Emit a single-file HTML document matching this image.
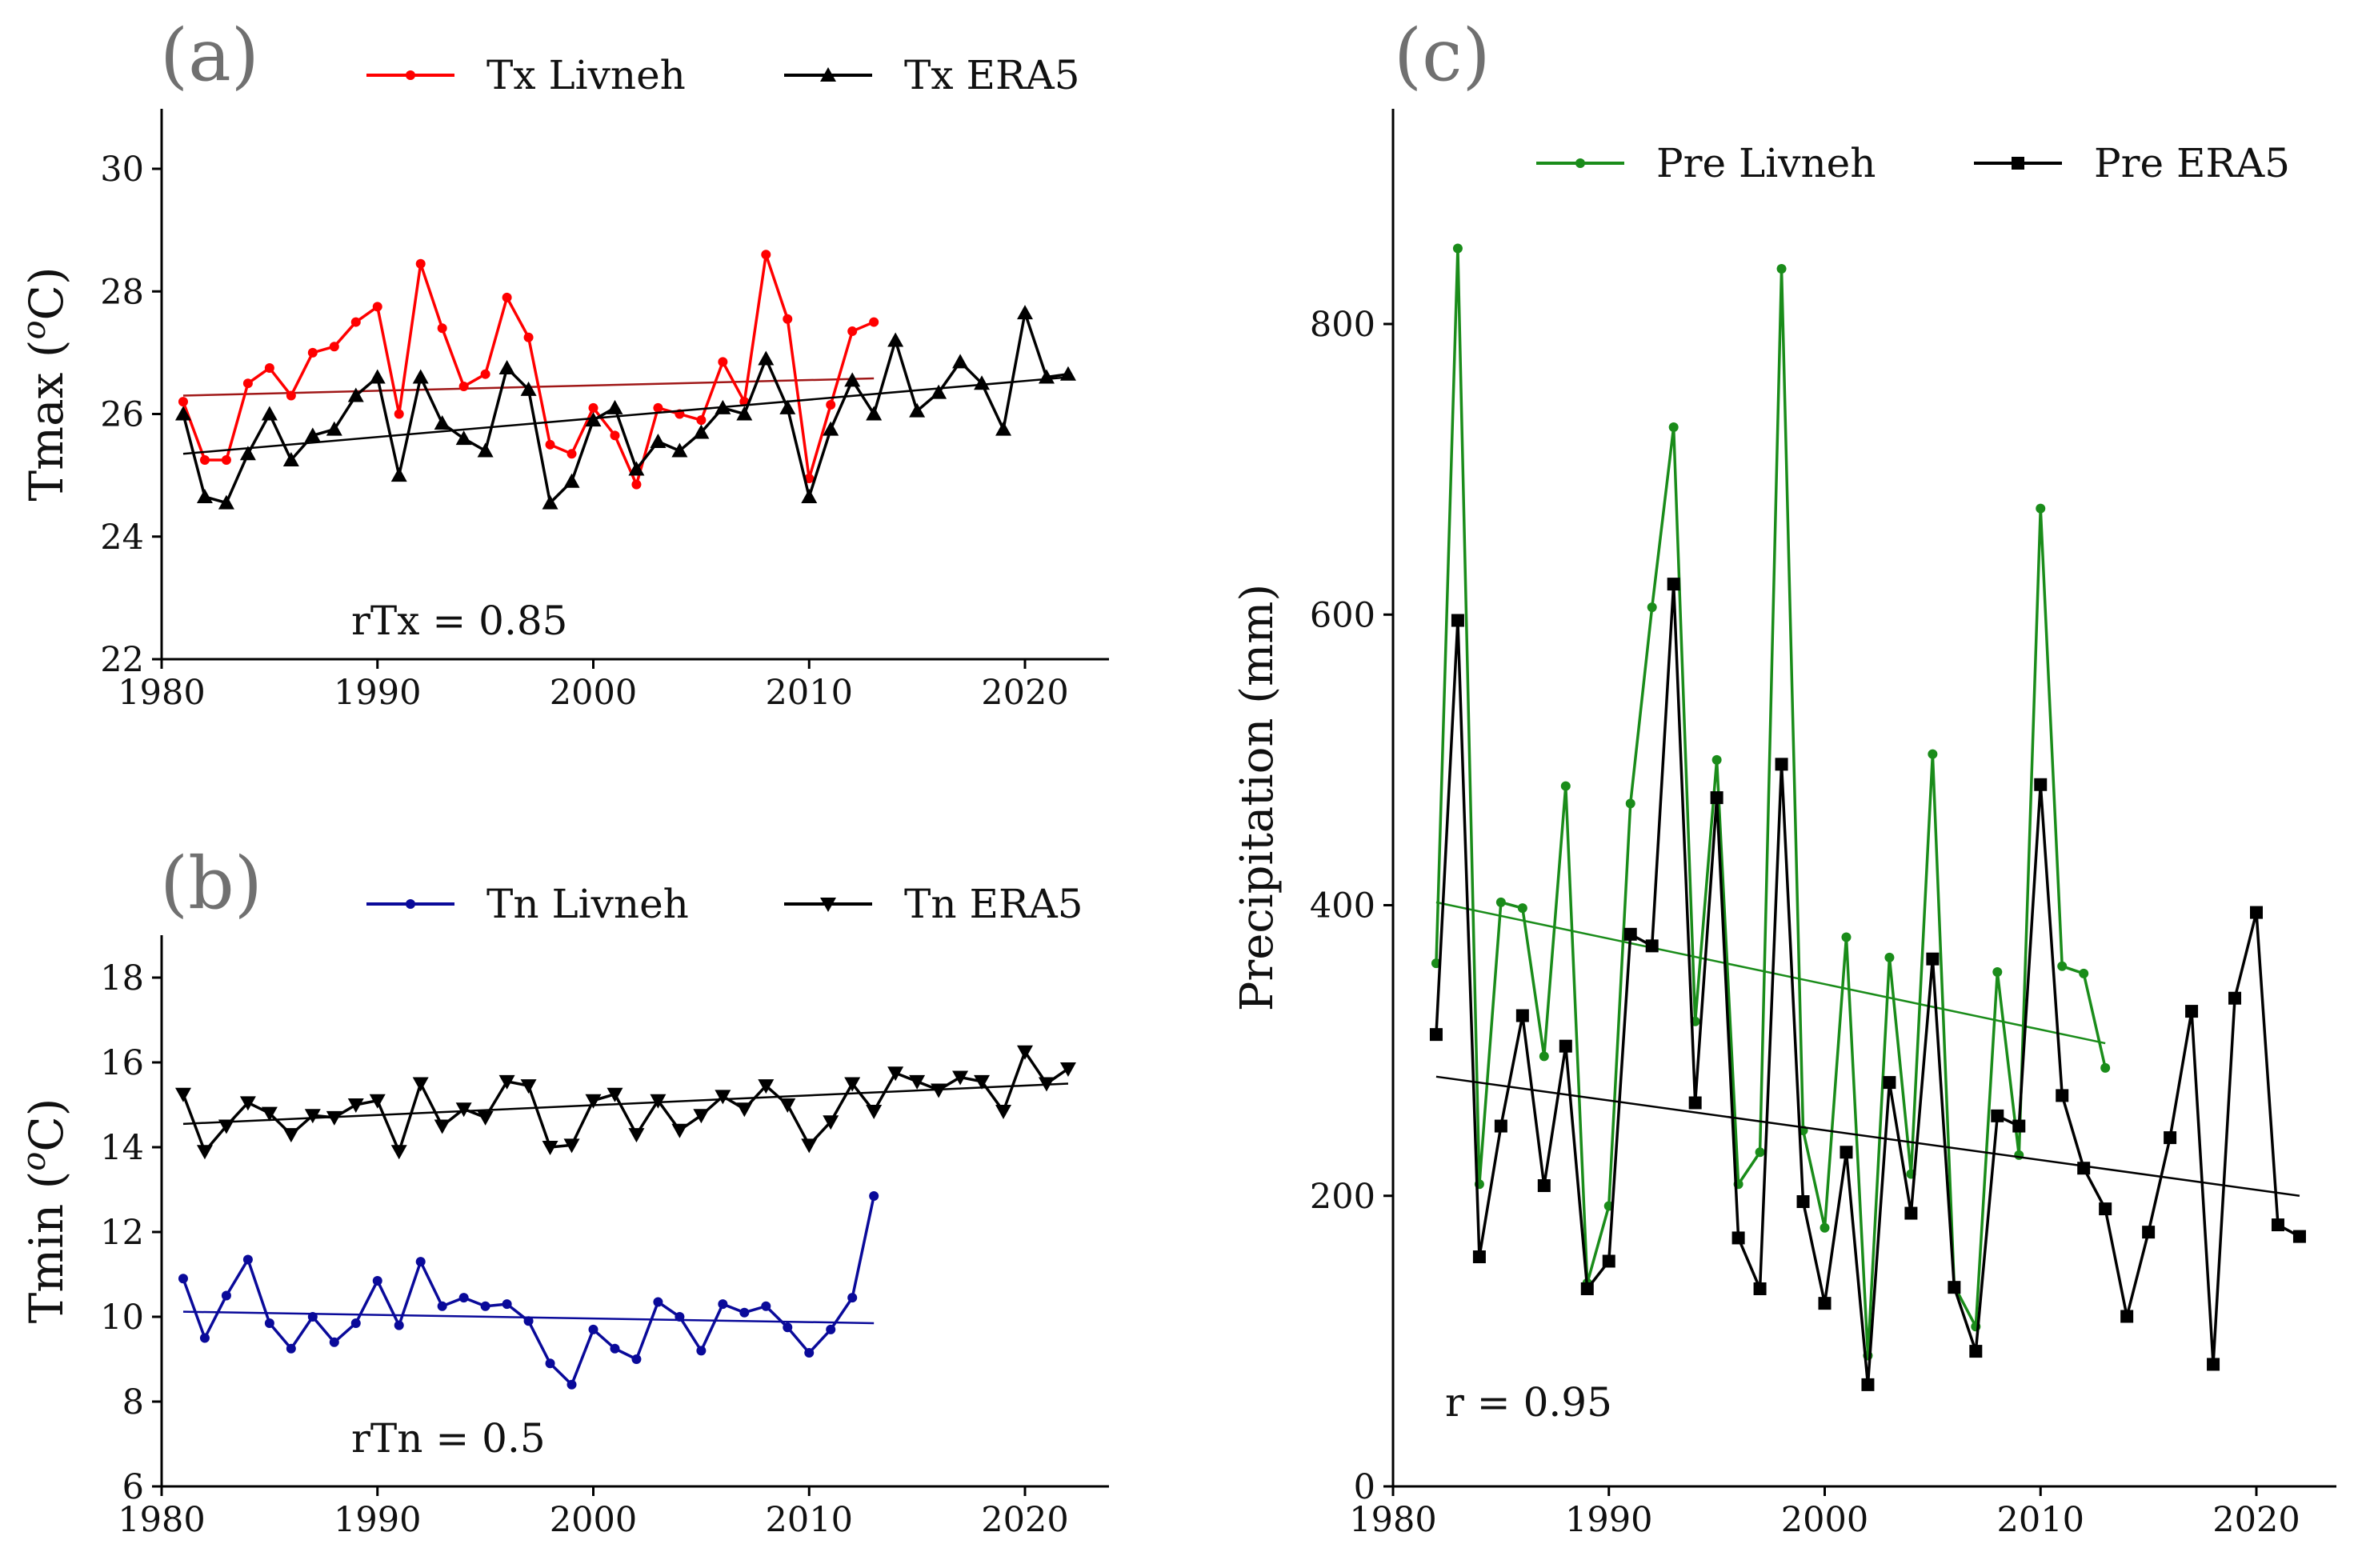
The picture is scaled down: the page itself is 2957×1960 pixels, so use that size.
<!DOCTYPE html>
<html><head><meta charset="utf-8"><style>
html,body{margin:0;padding:0;background:#fff;}
svg{display:block;font-family:"DejaVu Serif","Liberation Serif",serif;}
</style></head><body>
<svg id="fig" width="2957" height="1960" viewBox="0 0 2957 1960" xmlns="http://www.w3.org/2000/svg"></svg>
<script>
const yearsTx = [], yearsE = [], yearsPL = [], yearsPE = [];
const txLivneh = [26.2,25.25,25.25,26.5,26.75,26.3,27.0,27.1,27.5,27.75,26.0,28.45,27.4,26.45,26.65,27.9,27.25,25.5,25.35,26.1,25.65,24.85,26.1,26.0,25.9,26.85,26.2,28.6,27.55,24.95,26.15,27.35,27.5];
const txEra5 = [26.0,24.65,24.55,25.35,26.0,25.25,25.65,25.75,26.3,26.6,25.0,26.6,25.85,25.6,25.4,26.75,26.4,24.55,24.9,25.9,26.1,25.1,25.55,25.4,25.7,26.1,26.0,26.9,26.1,24.65,25.75,26.55,26.0,27.2,26.05,26.35,26.85,26.5,25.75,27.65,26.6,26.65];
const tnLivneh = [10.9,9.5,10.5,11.35,9.85,9.25,10.0,9.4,9.85,10.85,9.8,11.3,10.25,10.45,10.25,10.3,9.9,8.9,8.4,9.7,9.25,9.0,10.35,10.0,9.2,10.3,10.1,10.25,9.75,9.15,9.7,10.45,12.85];
const tnEra5 = [15.25,13.9,14.5,15.05,14.8,14.3,14.75,14.7,15.0,15.1,13.9,15.5,14.5,14.9,14.7,15.55,15.45,14.0,14.05,15.1,15.25,14.3,15.1,14.4,14.75,15.2,14.9,15.45,15.0,14.05,14.6,15.5,14.85,15.75,15.55,15.35,15.65,15.55,14.85,16.25,15.5,15.85];
const preLivneh = [360,852,208,402,398,296,482,140,193,470,605,729,320,500,208,230,838,245,178,378,90,364,215,504,138,110,354,228,673,358,353,288];
const preEra5 = [311,596,158,248,324,207,303,136,155,380,372,621,264,474,171,136,497,196,126,230,70,278,188,363,137,93,255,248,483,269,219,191,117,175,240,327,84,336,395,180,172];
const txLivnehTrend = [26.3,26.58];
const txEra5Trend = [25.35,26.6];
const tnLivnehTrend = [10.12,9.85];
const tnEra5Trend = [14.55,15.5];
const preLivnehTrend = [402,305];
const preEra5Trend = [282,200];
const xTicks = [1980,1990,2000,2010,2020];
const txTicks = [22,24,26,28,30];
const tnTicks = [6,8,10,12,14,16,18];
const preTicks = [0,200,400,600,800];
for(let i=0;i<txLivneh.length;i++) yearsTx.push(1981+i);
for(let i=0;i<txEra5.length;i++) yearsE.push(1981+i);
for(let i=0;i<preLivneh.length;i++) yearsPL.push(1982+i);
for(let i=0;i<preEra5.length;i++) yearsPE.push(1982+i);

const NS="http://www.w3.org/2000/svg";
const svg=document.getElementById('fig');
function mk(tag,attrs,parent){const e=document.createElementNS(NS,tag);for(const k in attrs)e.setAttribute(k,attrs[k]);(parent||svg).appendChild(e);return e;}
function txt(s,x,y,size,parent,extra){const t=mk('text',Object.assign({x:x,y:y,'font-size':size,fill:'#111'},extra||{}),parent);t.textContent=s;return t;}

function marker(g,type,x,y,color,size){
  if(type==='circle'){return mk('circle',{cx:x,cy:y,r:size,fill:color},g);}
  if(type==='up'){const s=size;return mk('polygon',{points:`${x},${y-s} ${x-s},${y+s*0.8} ${x+s},${y+s*0.8}`,fill:color},g);}
  if(type==='down'){const s=size;return mk('polygon',{points:`${x},${y+s} ${x-s},${y-s*0.8} ${x+s},${y-s*0.8}`,fill:color},g);}
  if(type==='square'){return mk('rect',{x:x-size,y:y-size,width:2*size,height:2*size,fill:color},g);}
}

function panel(o){
  const g=mk('g',{});
  
  
  const X=v=>o.x0+(v-1980)*o.xs;
  const Y=v=>o.y0-(v-o.ymin)*o.ys;
  const ya=mk('line',{x1:o.x0,y1:o.top,x2:o.x0,y2:o.y0,stroke:'#000','stroke-width':3},g);
  
  const xa=mk('line',{x1:o.x0,y1:o.y0,x2:o.right,y2:o.y0,stroke:'#000','stroke-width':3},g);
  
  xTicks.forEach(t=>{mk('line',{x1:X(t),y1:o.y0,x2:X(t),y2:o.y0+12,stroke:'#000','stroke-width':3},g);
    const l=txt(String(t),X(t),o.y0+56,o.tickSize,g,{'text-anchor':'middle'});
    });
  o.yTicks.forEach(t=>{mk('line',{x1:o.x0-12,y1:Y(t),x2:o.x0,y2:Y(t),stroke:'#000','stroke-width':3},g);
    const l=txt(String(t),o.x0-22,Y(t)+15,o.tickSize,g,{'text-anchor':'end'});
    });
  o.series.forEach(s=>{
    const sg=mk('g',{},g);
    
    const x1=s.xs[0],x2=s.xs[s.xs.length-1];
    const tl=mk('line',{x1:X(x1),y1:Y(s.tr[0]),x2:X(x2),y2:Y(s.tr[1]),stroke:s.trend,'stroke-width':2.5},sg);
    
    const pts=s.xs.map((x,i)=>X(x)+','+Y(s.ys[i])).join(' ');
    const pl=mk('polyline',{points:pts,fill:'none',stroke:s.color,'stroke-width':3.5,'stroke-linejoin':'round'},sg);
    
    s.xs.forEach((x,i)=>{const m=marker(sg,s.marker,X(x),Y(s.ys[i]),s.color,s.msize);
      });
    const lg=mk('g',{},g);
    
    mk('line',{x1:s.lx,y1:s.ly,x2:s.lx+110,y2:s.ly,stroke:s.color,'stroke-width':4},lg);
    marker(lg,s.marker,s.lx+55,s.ly,s.color,s.msize);
    txt(s.label,s.lx+150,s.ly+17,o.legSize,lg);
  });
  const pl=txt(o.plabel,o.plx,o.ply,90,g,{fill:'#707070'});
  
  const rt=txt(o.rtext,o.rx,o.ry,o.legSize,g);
  
  const yl=mk('text',{x:0,y:0,'font-size':o.ylSize,fill:'#111','text-anchor':'middle',transform:`translate(${o.ylx},${(o.top+o.y0)/2}) rotate(-90)`},g);
  
  if(o.ylabelHTML){yl.innerHTML=o.ylabelHTML;}else yl.textContent=o.ylabel;
}

panel({name:'panel-a-tmax',x0:202,y0:824,top:136,right:1386,xs:(1281-202)/40,ymin:22,ys:(824-211)/8,yTicks:txTicks,tickSize:43,legSize:50,
  plabel:'(a)',plx:200,ply:100,rtext:'rTx = 0.85',rx:439,ry:793,ylx:78,ylSize:58,
  ylabelHTML:'Tmax (<tspan font-style="italic" font-size="40" dy="-22">o</tspan><tspan dy="22">C)</tspan>',
  series:[
   {name:'tx-livneh',label:'Tx Livneh',xs:yearsTx,ys:txLivneh,tr:txLivnehTrend,color:'#ff0000',trend:'#a01818',marker:'circle',msize:6,lx:458,ly:94},
   {name:'tx-era5',label:'Tx ERA5',xs:yearsE,ys:txEra5,tr:txEra5Trend,color:'#000',trend:'#000',marker:'up',msize:10,lx:980,ly:94}]});
panel({name:'panel-b-tmin',x0:202,y0:1858,top:1169,right:1386,xs:(1281-202)/40,ymin:6,ys:(1858-1222)/12,yTicks:tnTicks,tickSize:43,legSize:50,
  plabel:'(b)',plx:200,ply:1135,rtext:'rTn = 0.5',rx:439,ry:1815,ylx:78,ylSize:58,
  ylabelHTML:'Tmin (<tspan font-style="italic" font-size="40" dy="-22">o</tspan><tspan dy="22">C)</tspan>',
  series:[
   {name:'tn-livneh',label:'Tn Livneh',xs:yearsTx,ys:tnLivneh,tr:tnLivnehTrend,color:'#0a0a9a',trend:'#0a0a9a',marker:'circle',msize:6,lx:458,ly:1130},
   {name:'tn-era5',label:'Tn ERA5',xs:yearsE,ys:tnEra5,tr:tnEra5Trend,color:'#000',trend:'#000',marker:'down',msize:10,lx:980,ly:1130}]});
panel({name:'panel-c-precip',x0:1741,y0:1858,top:136,right:2920,xs:(2820-1741)/40,ymin:0,ys:(1858-405)/800,yTicks:preTicks,tickSize:43,legSize:50,
  plabel:'(c)',plx:1742,ply:100,rtext:'r = 0.95',rx:1806,ry:1770,ylx:1590,ylSize:56,ylabel:'Precipitation (mm)',
  series:[
   {name:'pre-livneh',label:'Pre Livneh',xs:yearsPL,ys:preLivneh,tr:preLivnehTrend,color:'#1a8c1a',trend:'#1a8c1a',marker:'circle',msize:6,lx:1920,ly:204},
   {name:'pre-era5',label:'Pre ERA5',xs:yearsPE,ys:preEra5,tr:preEra5Trend,color:'#000',trend:'#000',marker:'square',msize:8,lx:2467,ly:204}]});
</script>
</body></html>
